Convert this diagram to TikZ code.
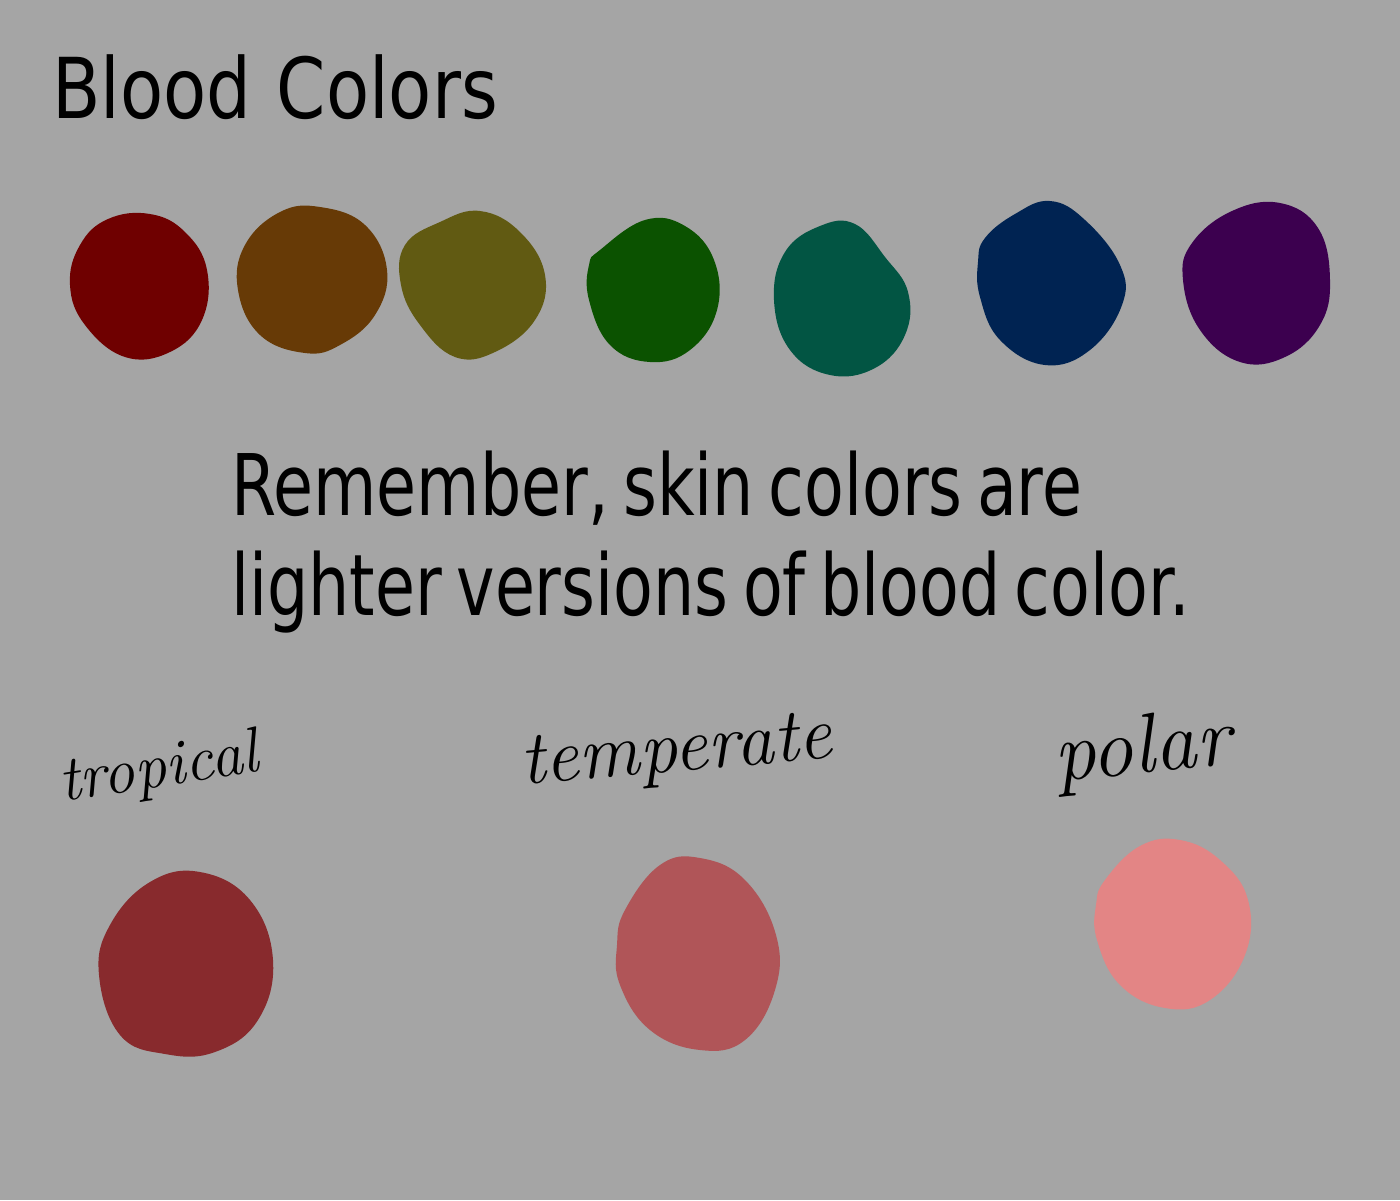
\documentclass[tikz,border=0pt]{standalone}
\usepackage{fontspec}
\usepackage{tikz}
\newfontfamily\titlefont[FakeStretch=0.84]{DejaVu Sans}
\newfontfamily\notefont[FakeStretch=0.765,WordSpace=0.7]{DejaVu Sans}
\definecolor{bgray}{HTML}{A5A5A5}
\definecolor{bloodred}{HTML}{6F0000}
\definecolor{bloodbrown}{HTML}{673A06}
\definecolor{bloodolive}{HTML}{615A12}
\definecolor{bloodgreen}{HTML}{0B5200}
\definecolor{bloodteal}{HTML}{025543}
\definecolor{bloodnavy}{HTML}{002352}
\definecolor{bloodpurple}{HTML}{3C004F}
\definecolor{skintrop}{HTML}{882A2D}
\definecolor{skintemp}{HTML}{B05558}
\definecolor{skinpolar}{HTML}{E38585}

\begin{document}
\begin{tikzpicture}[x=1pt,y=-1pt,
  blob/.style={fill=#1,draw=none},
  hand/.style={inner sep=0pt,anchor=base west,font=\fontsize{#1}{#1}\selectfont\itshape}]
 \fill[bgray] (0,0) rectangle (1400,1200);
 \useasboundingbox (0,0) rectangle (1400,1200);

 \node[anchor=base west,inner sep=0pt,font=\titlefont\fontsize{84}{90}\selectfont]
   (title) at (52,118) {Blood\hspace{3pt} Colors};

 % blood colours, left to right
 \fill[blob=bloodred] plot[smooth cycle,tension=0.7] coordinates
   {(80,245) (108,219) (150,214) (185,232) (207,270) (202,320) (170,352) (125,357) (85,325) (70,285)};
 \fill[blob=bloodbrown] plot[smooth cycle,tension=0.7] coordinates
   {(245,245) (280,212) (320,207) (365,225) (387,270) (375,315) (340,345) (305,353) (260,335) (238,290)};
 \fill[blob=bloodolive] plot[smooth cycle,tension=0.7] coordinates
   {(405,245) (440,222) (480,211) (520,232) (545,275) (535,320) (495,352) (455,357) (420,325) (401,285)};
 \fill[blob=bloodgreen] plot[smooth cycle,tension=0.7] coordinates
   {(600,250) (645,220) (685,226) (714,260) (717,310) (690,350) (650,362) (610,345) (589,300) (589,265)};
 \fill[blob=bloodteal] plot[smooth cycle,tension=0.7] coordinates
   {(785,252) (820,226) (855,224) (885,257) (908,292) (905,335) (875,368) (830,375) (790,350) (774,300)};
 \fill[blob=bloodnavy] plot[smooth cycle,tension=0.7] coordinates
   {(985,238) (1015,214) (1050,201) (1085,220) (1120,265) (1122,305) (1090,350) (1045,365) (1000,340) (980,297) (978,262)};
 \fill[blob=bloodpurple] plot[smooth cycle,tension=0.7] coordinates
   {(1192,243) (1232,211) (1280,203) (1318,228) (1330,280) (1320,325) (1285,357) (1240,362) (1200,330) (1183,280)};

 \node[anchor=base west,inner sep=0pt,font=\notefont\fontsize{85}{100}\selectfont]
   (line1) at (231,515) {Remember, skin colors are};
 \node[anchor=base west,inner sep=0pt,font=\notefont\fontsize{85}{100}\selectfont]
   (line2) at (231,615) {lighter versions of blood color.};

 % handwritten climate labels
 \node[hand=64,rotate=9] (tropical) at (62,802) {tropical};
 \node[hand=76,rotate=5] (temperate) at (522,785) {temperate};
 \node[hand=84,rotate=6] (polar) at (1056,782) {polar};

 % skin colours
 \fill[blob=skintrop] plot[smooth cycle,tension=0.7] coordinates
   {(110,925) (150,882) (200,872) (250,900) (273,960) (258,1020) (215,1052) (165,1054) (120,1035) (99,975)};
 \fill[blob=skintemp] plot[smooth cycle,tension=0.7] coordinates
   {(625,910) (660,865) (700,858) (745,880) (776,935) (775,990) (745,1040) (700,1050) (650,1030) (620,985) (617,945)};
 \fill[blob=skinpolar] plot[smooth cycle,tension=0.7] coordinates
   {(1105,880) (1140,846) (1180,840) (1220,860) (1248,900) (1245,955) (1210,1000) (1165,1008) (1120,985) (1097,940) (1096,905)};
\end{tikzpicture}
\end{document}
